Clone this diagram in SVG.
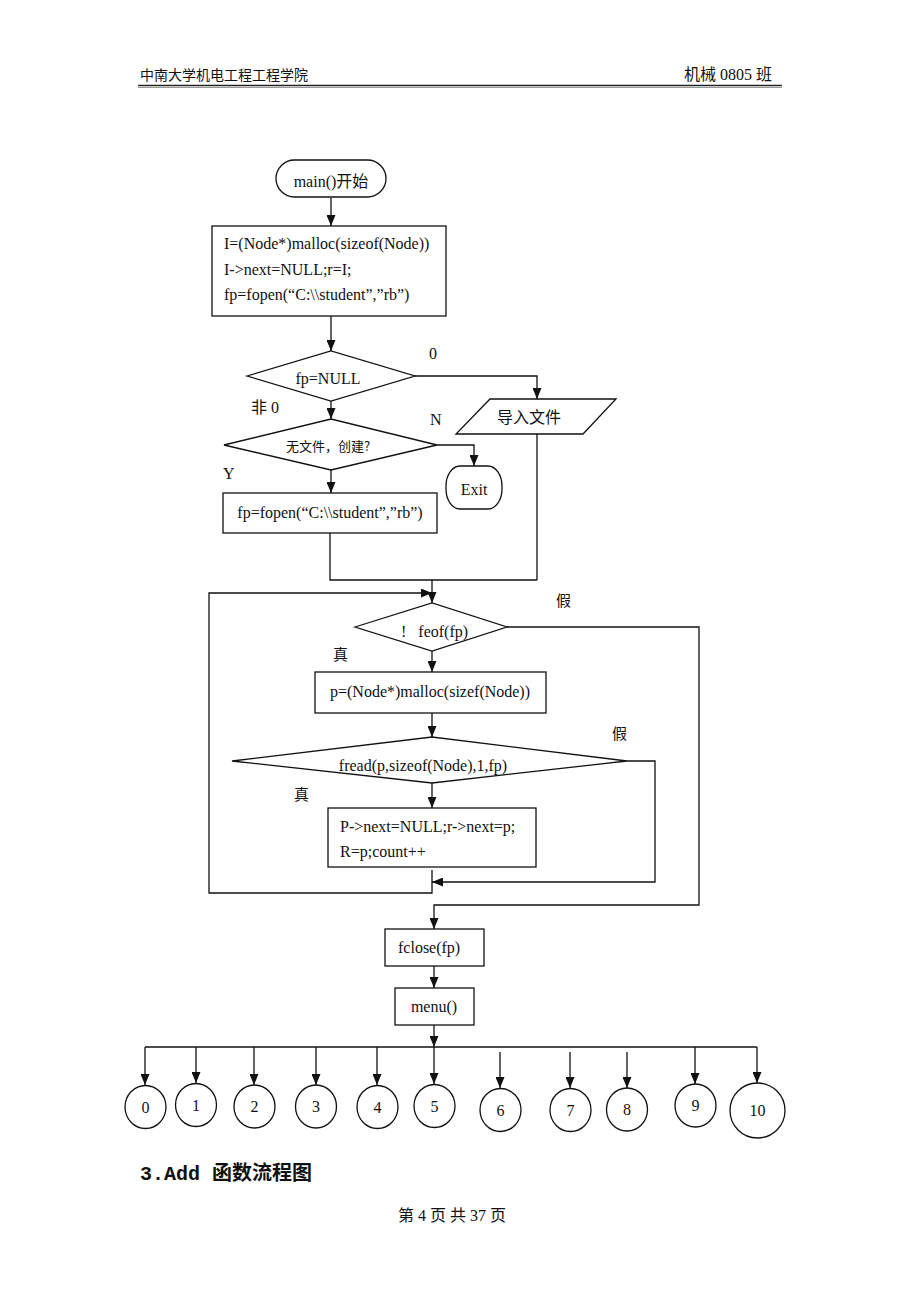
<svg xmlns="http://www.w3.org/2000/svg" width="920" height="1302" viewBox="0 0 920 1302">
<style>
.t{font-family:"Liberation Serif","Noto Sans CJK SC",serif;font-size:16px;fill:#111}
.c{font-family:"Noto Sans CJK SC","Liberation Serif",serif;fill:#111}
.s{fill:#fff;stroke:#111;stroke-width:1.3}
.l{fill:none;stroke:#111;stroke-width:1.3}
</style>
<defs>
<marker id="a" markerUnits="userSpaceOnUse" markerWidth="11" markerHeight="9" refX="11" refY="4.5" orient="auto">
<path d="M0,0 L11,4.5 L0,9 z" fill="#111"/>
</marker>
</defs>
<rect width="920" height="1302" fill="#fff"/>
<g id="header">
<text x="140" y="80" class="c" font-size="14">中南大学机电工程工程学院</text>
<text x="772" y="80" class="t" font-size="14" text-anchor="end">机械 0805 班</text>
<line x1="138" y1="85.5" x2="782" y2="85.5" stroke="#222" stroke-width="1.5"/>
<line x1="138" y1="87.5" x2="782" y2="87.5" stroke="#999" stroke-width="1"/>
</g>
<g id="connectors">
<path class="l" d="M331,198 V226" marker-end="url(#a)"/>
<path class="l" d="M331,316 V351" marker-end="url(#a)"/>
<path class="l" d="M415,376 H537 V399" marker-end="url(#a)"/>
<path class="l" d="M331,401 V419" marker-end="url(#a)"/>
<path class="l" d="M437,445 H474 V466" marker-end="url(#a)"/>
<path class="l" d="M331,470 V493" marker-end="url(#a)"/>
<path class="l" d="M330,533 V580 H537"/>
<path class="l" d="M537,434 V580"/>
<path class="l" d="M432,580 V603" marker-end="url(#a)"/>
<path class="l" d="M432,870 V893 H209 V593 H432" marker-end="url(#a)"/>
<path class="l" d="M507,627 H699 V905 H434 V929" marker-end="url(#a)"/>
<path class="l" d="M432,651 V672" marker-end="url(#a)"/>
<path class="l" d="M432,713 V737" marker-end="url(#a)"/>
<path class="l" d="M627,761 H655 V882 H432" marker-end="url(#a)"/>
<path class="l" d="M432,783 V808" marker-end="url(#a)"/>
<path class="l" d="M434,966 V988" marker-end="url(#a)"/>
<path class="l" d="M434,1025 V1047" marker-end="url(#a)"/>
<path class="l" d="M145,1047 H757"/>
<path class="l" d="M145,1047 V1085" marker-end="url(#a)"/>
<path class="l" d="M196,1047 V1083" marker-end="url(#a)"/>
<path class="l" d="M254,1047 V1085" marker-end="url(#a)"/>
<path class="l" d="M316,1047 V1085" marker-end="url(#a)"/>
<path class="l" d="M377,1047 V1085" marker-end="url(#a)"/>
<path class="l" d="M434,1047 V1084" marker-end="url(#a)"/>
<path class="l" d="M500,1052 V1088" marker-end="url(#a)"/>
<path class="l" d="M570,1052 V1088" marker-end="url(#a)"/>
<path class="l" d="M627,1052 V1088" marker-end="url(#a)"/>
<path class="l" d="M695,1047 V1084" marker-end="url(#a)"/>
<path class="l" d="M757,1047 V1083" marker-end="url(#a)"/>
</g>
<g id="start">
<rect class="s" x="276" y="160" width="110" height="37" rx="18.5"/>
<text x="331" y="187" class="t" text-anchor="middle">main()开始</text>
</g>
<g id="init">
<rect class="s" x="212" y="226" width="234" height="90"/>
<text x="224" y="249" class="t">I=(Node*)malloc(sizeof(Node))</text>
<text x="224" y="275" class="t">I-&gt;next=NULL;r=I;</text>
<text x="224" y="300" class="t">fp=fopen(“C:\\student”,”rb”)</text>
</g>
<g id="d1">
<polygon class="s" points="247,376 331,351 415,376 331,401"/>
<text x="328" y="384" class="t" text-anchor="middle">fp=NULL</text>
<text x="429" y="359" class="t">0</text>
<text x="251" y="413" class="t">非 0</text>
</g>
<g id="import">
<polygon class="s" points="490,399 616,399 583,434 456,434"/>
<text x="529" y="423" class="t" text-anchor="middle">导入文件</text>
</g>
<g id="d2">
<polygon class="s" points="224,445 331,419 437,445 331,470"/>
<text x="328" y="451" class="c" font-size="13" text-anchor="middle">无文件，创建?</text>
<text x="430" y="425" class="t">N</text>
<text x="223" y="479" class="t">Y</text>
</g>
<g id="exit">
<rect class="s" x="446" y="466" width="56" height="43" rx="14" ry="20"/>
<text x="474" y="495" class="t" text-anchor="middle">Exit</text>
</g>
<g id="create">
<rect class="s" x="223" y="493" width="214" height="40"/>
<text x="330" y="518" class="t" text-anchor="middle">fp=fopen(“C:\\student”,”rb”)</text>
</g>
<g id="d3">
<polygon class="s" points="355,627 432,603 507,627 432,651"/>
<text x="401" y="637" class="t" xml:space="preserve">!   feof(fp)</text>
<text x="556" y="606" class="c" font-size="15">假</text>
<text x="333" y="660" class="c" font-size="15">真</text>
</g>
<g id="alloc">
<rect class="s" x="315" y="672" width="231" height="41"/>
<text x="430" y="697" class="t" text-anchor="middle">p=(Node*)malloc(sizef(Node))</text>
</g>
<g id="d4">
<polygon class="s" points="232,761 432,737 627,761 432,783"/>
<text x="423" y="771" class="t" text-anchor="middle">fread(p,sizeof(Node),1,fp)</text>
<text x="612" y="739" class="c" font-size="15">假</text>
<text x="294" y="800" class="c" font-size="15">真</text>
</g>
<g id="link">
<rect class="s" x="328" y="808" width="208" height="59"/>
<text x="340" y="832" class="t">P-&gt;next=NULL;r-&gt;next=p;</text>
<text x="340" y="857" class="t">R=p;count++</text>
</g>
<g id="fclose">
<rect class="s" x="385" y="929" width="99" height="37"/>
<text x="398" y="953" class="t">fclose(fp)</text>
</g>
<g id="menu">
<rect class="s" x="395" y="988" width="79" height="37"/>
<text x="434" y="1012" class="t" text-anchor="middle">menu()</text>
</g>
<g id="n0"><ellipse class="s" cx="145.5" cy="1107" rx="20.5" ry="21.5"/><text x="145.5" y="1113" class="t" text-anchor="middle">0</text></g>
<g id="n1"><ellipse class="s" cx="196" cy="1105" rx="20.5" ry="21.5"/><text x="196" y="1111" class="t" text-anchor="middle">1</text></g>
<g id="n2"><ellipse class="s" cx="254.5" cy="1106.5" rx="20.5" ry="21.5"/><text x="254.5" y="1112" class="t" text-anchor="middle">2</text></g>
<g id="n3"><ellipse class="s" cx="316" cy="1106.5" rx="20.5" ry="21.5"/><text x="316" y="1112" class="t" text-anchor="middle">3</text></g>
<g id="n4"><ellipse class="s" cx="377.5" cy="1107" rx="20.5" ry="21.5"/><text x="377.5" y="1113" class="t" text-anchor="middle">4</text></g>
<g id="n5"><ellipse class="s" cx="434.5" cy="1106" rx="20.5" ry="21.5"/><text x="434.5" y="1112" class="t" text-anchor="middle">5</text></g>
<g id="n6"><ellipse class="s" cx="500.5" cy="1110" rx="20.5" ry="21.5"/><text x="500.5" y="1116" class="t" text-anchor="middle">6</text></g>
<g id="n7"><ellipse class="s" cx="570.5" cy="1110" rx="20.5" ry="21.5"/><text x="570.5" y="1116" class="t" text-anchor="middle">7</text></g>
<g id="n8"><ellipse class="s" cx="627" cy="1109.5" rx="20.5" ry="21.5"/><text x="627" y="1115" class="t" text-anchor="middle">8</text></g>
<g id="n9"><ellipse class="s" cx="695.5" cy="1105.5" rx="20.5" ry="21.5"/><text x="695.5" y="1111" class="t" text-anchor="middle">9</text></g>
<g id="n10"><ellipse class="s" cx="757.5" cy="1110.5" rx="27.5" ry="27.5"/><text x="757.5" y="1116" class="t" text-anchor="middle">10</text></g>
<g id="footer">
<text x="140" y="1180" font-family="'Liberation Mono','Noto Sans CJK SC',monospace" font-size="20" font-weight="bold" fill="#111">3.Add <tspan font-family="'Noto Sans CJK SC',sans-serif">函数流程图</tspan></text>
<text x="452" y="1221" class="t" font-size="14" text-anchor="middle">第 4 页 共 37 页</text>
</g>
</svg>
